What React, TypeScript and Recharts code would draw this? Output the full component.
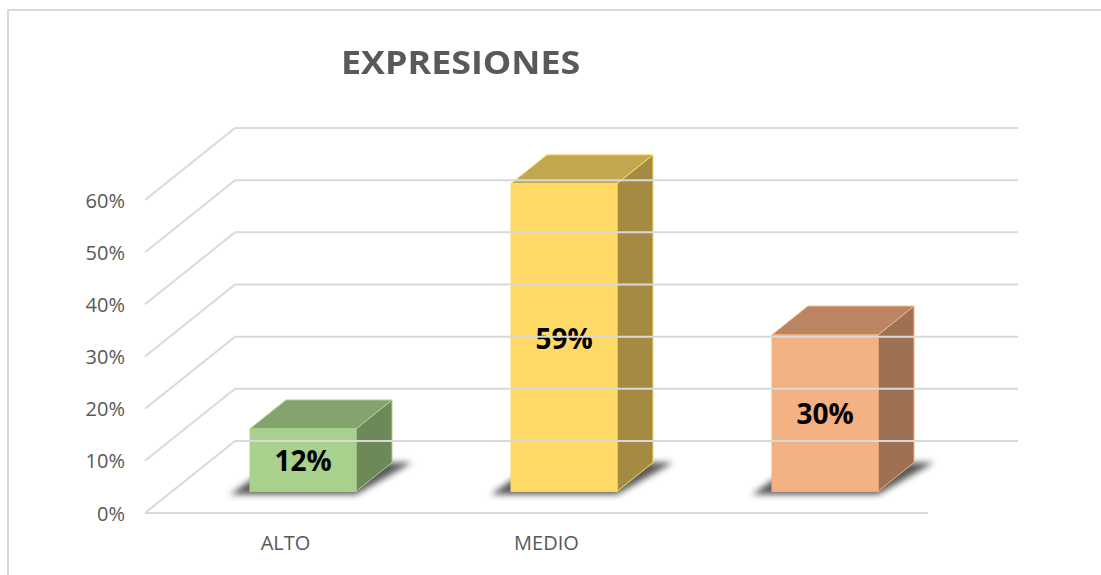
import React from "react";
import { BarChart, Bar, XAxis, YAxis, ReferenceLine } from "recharts";

const categories = ["ALTO", "MEDIO", ""];
const values = [0.12, 0.59, 0.3];
const yTicks = [0, 0.1, 0.2, 0.3, 0.4, 0.5, 0.6];

const FRONT = ["#A9D18E", "#FFD966", "#F4B183"];
const TOP = ["#85A36E", "#C3A650", "#BB8563"];
const SIDE = ["#6D8958", "#A48B41", "#9D7152"];

const W = 1101;
const H = 575;

// oblique depth of the floor and of each bar
const DEPTH_X = 90;
const DEPTH_Y = 72;
const BAR_START = 0.3;
const BAR_DEPTH = 0.4;

const GRID = "#D9D9D9";
const TEXT = "#595959";
const FONT = "'Open Sans', 'Noto Sans', sans-serif";

const chartData = categories.map((name, i) => ({ name, value: values[i] }));

const pct = (v: number) => `${Math.round(v * 100)}%`;

const GridLine = (props: any) => {
  const { x1, y1, x2, y2 } = props;
  if (x1 == null || y1 == null) return null;
  const bx = x1 + DEPTH_X;
  const by = y1 - DEPTH_Y;
  return (
    <g>
      <line x1={x1} y1={y1} x2={bx} y2={by} stroke={GRID} strokeWidth={2} />
      <line x1={bx} y1={by} x2={x2 + DEPTH_X} y2={y2 - DEPTH_Y} stroke={GRID} strokeWidth={2} />
    </g>
  );
};

const FloorLine = (props: any) => {
  const { x1, y1, x2, y2 } = props;
  if (x1 == null || y1 == null) return null;
  return (
    <g>
      <line x1={x1} y1={y1} x2={x1 + DEPTH_X} y2={y1 - DEPTH_Y} stroke={GRID} strokeWidth={2} />
      <line x1={x1 + DEPTH_X} y1={y1 - DEPTH_Y} x2={x2 + DEPTH_X} y2={y2 - DEPTH_Y} stroke={GRID} strokeWidth={2} />
      <line x1={x1} y1={y1} x2={x2} y2={y2} stroke={GRID} strokeWidth={2} />
    </g>
  );
};

const Box = (props: any) => {
  const { x, y, width, height, index, payload } = props;
  const ox = DEPTH_X * BAR_START;
  const oy = DEPTH_Y * BAR_START;
  const dx = DEPTH_X * BAR_DEPTH;
  const dy = DEPTH_Y * BAR_DEPTH;
  const fx = x + ox;
  const ty = y - oy;
  const by = y + height - oy;
  const w = width;
  const front = FRONT[index];
  const id = `bar-shadow-${index}`;
  const shadow = [
    [fx - 20, by + 3],
    [fx + w, by + 3],
    [fx + w + dx + 20, by - dy],
    [fx + dx - 10, by - dy],
  ]
    .map((p) => p.join(","))
    .join(" ");
  const top = [
    [fx, ty],
    [fx + w, ty],
    [fx + w + dx, ty - dy],
    [fx + dx, ty - dy],
  ]
    .map((p) => p.join(","))
    .join(" ");
  const side = [
    [fx + w, ty],
    [fx + w + dx, ty - dy],
    [fx + w + dx, by - dy],
    [fx + w, by],
  ]
    .map((p) => p.join(","))
    .join(" ");
  return (
    <g>
      <defs>
        <filter id={id} x="-50%" y="-50%" width="200%" height="200%">
          <feGaussianBlur stdDeviation={3} />
        </filter>
      </defs>
      <polygon points={shadow} fill="#3a3a3a" opacity={0.85} filter={`url(#${id})`} />
      <polygon points={side} fill={SIDE[index]} stroke={front} strokeWidth={1} />
      <polygon points={top} fill={TOP[index]} stroke={front} strokeWidth={1} />
      <rect x={fx} y={ty} width={w} height={by - ty} fill={front} stroke={front} strokeWidth={1} />
      <text
        x={fx + w / 2}
        y={(ty + by) / 2}
        textAnchor="middle"
        dominantBaseline="central"
        fontFamily={FONT}
        fontWeight={700}
        fontSize={28}
        fill="#000"
      >
        {pct(payload.value)}
      </text>
    </g>
  );
};

const YTick = (props: any) => {
  const { x, y, payload } = props;
  return (
    <text
      x={x}
      y={y}
      textAnchor="end"
      dominantBaseline="central"
      fontFamily={FONT}
      fontSize={20}
      fill={TEXT}
    >
      {pct(payload.value)}
    </text>
  );
};

const XTick = (props: any) => {
  const { x, payload } = props;
  return (
    <text
      x={x + 10}
      y={542}
      textAnchor="middle"
      dominantBaseline="central"
      fontFamily={FONT}
      fontSize={20}
      fill={TEXT}
    >
      {payload.value}
    </text>
  );
};

export default function App() {
  return (
    <div style={{ position: "absolute", left: 0, top: 0, width: W, height: H, background: "#fff", overflow: "hidden" }}>
      <div
        style={{
          position: "absolute",
          left: 7,
          top: 9,
          width: W,
          height: H,
          borderLeft: `2px solid ${GRID}`,
          borderTop: `2px solid ${GRID}`,
        }}
      />
      <div
        style={{
          position: "absolute",
          left: 341,
          top: 40,
          fontFamily: FONT,
          fontWeight: 700,
          fontSize: 32,
          lineHeight: "44px",
          color: TEXT,
          transform: "scaleX(1.12)",
          transformOrigin: "left center",
          whiteSpace: "nowrap",
        }}
      >
        EXPRESIONES
      </div>
      <div style={{ position: "absolute", left: 0, top: 0 }}>
        <BarChart
          width={W}
          height={H}
          data={chartData}
          margin={{ top: 200, right: 173, bottom: 32, left: 0 }}
          barSize={106}
        >
          <XAxis
            dataKey="name"
            height={30}
            axisLine={false}
            tickLine={false}
            tick={<XTick />}
            interval={0}
          />
          <YAxis
            width={145}
            domain={[0, 0.6]}
            ticks={yTicks}
            axisLine={false}
            tickLine={false}
            tickSize={0}
            tickMargin={20}
            tick={<YTick />}
            interval={0}
          />
          {yTicks.map((t) =>
            t === 0 ? (
              <ReferenceLine key={t} y={t} shape={<FloorLine />} />
            ) : (
              <ReferenceLine key={t} y={t} shape={<GridLine />} />
            )
          )}
          <Bar dataKey="value" shape={<Box />} isAnimationActive={false} />
        </BarChart>
      </div>
    </div>
  );
}
